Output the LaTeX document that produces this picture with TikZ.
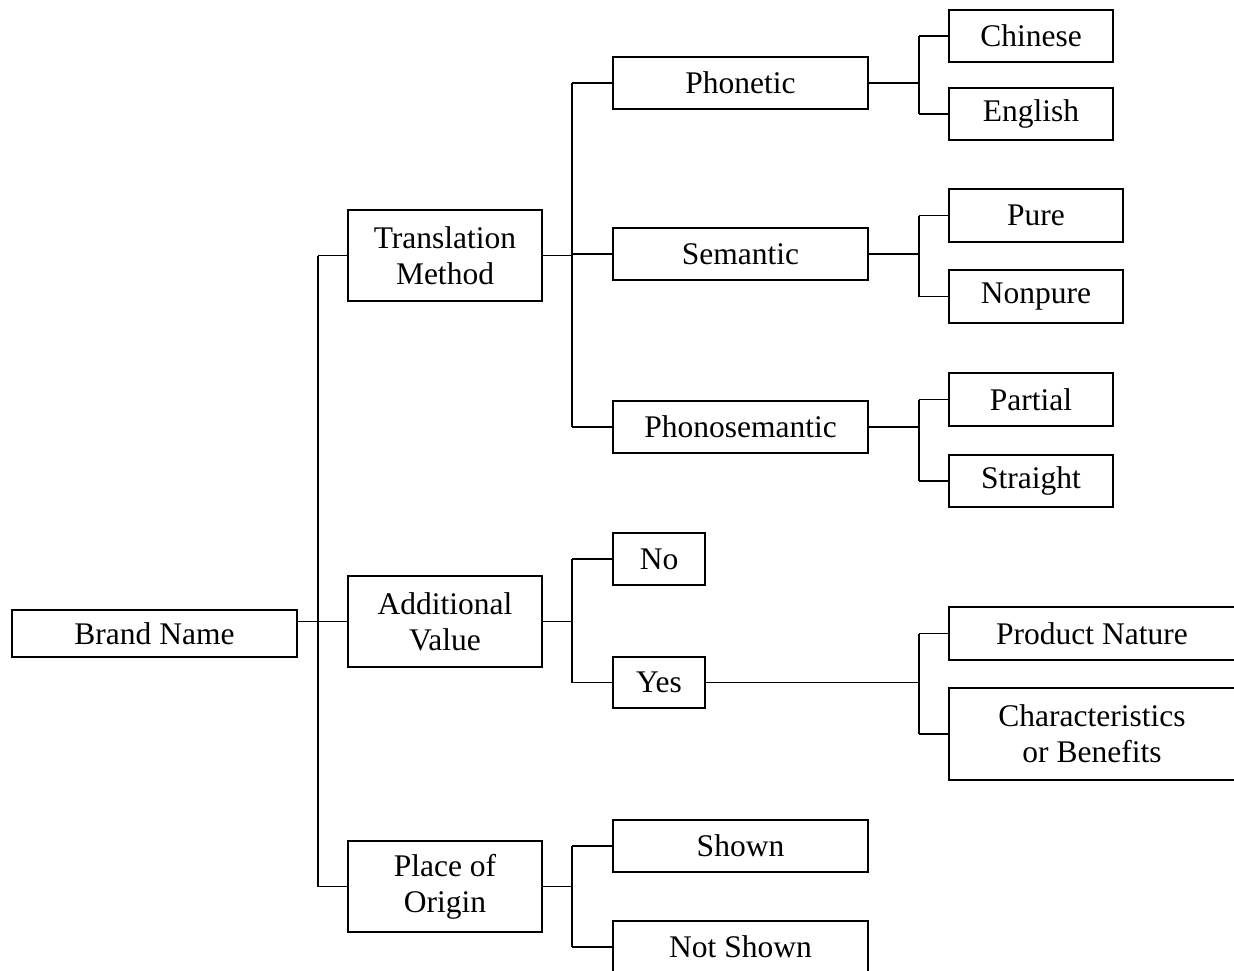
\documentclass[tikz,border=0pt]{standalone}
\usepackage{fontspec}
\setmainfont{Liberation Serif}
\begin{document}
\begin{tikzpicture}[x=1pt,y=-1pt,
  box/.style={draw=black, line width=1.6pt, rectangle, inner sep=0pt, align=center,
    font=\fontsize{31.5}{36}\selectfont, text=black},
  link/.style={draw=black, line width=1.6pt}]
\useasboundingbox (0,0) rectangle (1234,971);
\clip (0,0) rectangle (1234,971);
% level 0
\node[box, minimum width=285, minimum height=47] (bn) at (154.5,633.5) {Brand Name};
% level 1
\node[box, minimum width=194, minimum height=91] (tm) at (445,255.5) {Translation\\Method};
\node[box, minimum width=194, minimum height=91] (av) at (445,621.5) {Additional\\Value};
\node[box, minimum width=194, minimum height=91] (po) at (445,886.5) {Place of\\Origin};
% level 2
\node[box, minimum width=255, minimum height=52] (ph) at (740.5,83) {Phonetic};
\node[box, minimum width=255, minimum height=52] (se) at (740.5,254) {Semantic};
\node[box, minimum width=255, minimum height=52] (ps) at (740.5,427) {Phonosemantic};
\node[box, minimum width=92, minimum height=52] (no) at (659,559) {No};
\node[box, minimum width=92, minimum height=51] (ye) at (659,682.5) {Yes};
\node[box, minimum width=255, minimum height=52] (sh) at (740.5,846) {Shown};
\node[box, minimum width=255, minimum height=52] (ns) at (740.5,947) {Not Shown};
% level 3
\node[box, minimum width=164, minimum height=52] (ch) at (1031,36) {Chinese};
\node[box, minimum width=164, minimum height=52] (en) at (1031,114) {English};
\node[box, minimum width=174, minimum height=53] (pu) at (1036,215.5) {Pure};
\node[box, minimum width=174, minimum height=53] (np) at (1036,296.5) {Nonpure};
\node[box, minimum width=164, minimum height=53] (pa) at (1031,399.5) {Partial};
\node[box, minimum width=164, minimum height=52] (st) at (1031,481) {Straight};
\node[box, minimum width=286, minimum height=53] (pn) at (1092,633.5) {Product Nature};
\node[box, minimum width=286, minimum height=92] (cb) at (1092,734) {Characteristics\\or Benefits};
% junction columns
\coordinate (ja) at (318,0);
\coordinate (jb) at (572,0);
\coordinate (jc) at (919,0);
% connectors: root
\draw[link] (bn.east |- av.west) -- (av.west);
\draw[link] (tm.west -| ja) -- (po.west -| ja);
\draw[link] (tm.west -| ja) -- (tm.west);
\draw[link] (po.west -| ja) -- (po.west);
% translation method
\draw[link] (tm.east) -- (tm.east -| jb);
\draw[link] (ph.west -| jb) -- (ps.west -| jb);
\draw[link] (ph.west -| jb) -- (ph.west);
\draw[link] (se.west -| jb) -- (se.west);
\draw[link] (ps.west -| jb) -- (ps.west);
% additional value
\draw[link] (av.east) -- (av.east -| jb);
\draw[link] (no.west -| jb) -- (ye.west -| jb);
\draw[link] (no.west -| jb) -- (no.west);
\draw[link] (ye.west -| jb) -- (ye.west);
% place of origin
\draw[link] (po.east) -- (po.east -| jb);
\draw[link] (sh.west -| jb) -- (ns.west -| jb);
\draw[link] (sh.west -| jb) -- (sh.west);
\draw[link] (ns.west -| jb) -- (ns.west);
% level 3 junctions
\draw[link] (ph.east) -- (ph.east -| jc);
\draw[link] (ch.west -| jc) -- (en.west -| jc);
\draw[link] (ch.west -| jc) -- (ch.west);
\draw[link] (en.west -| jc) -- (en.west);
\draw[link] (se.east) -- (se.east -| jc);
\draw[link] (pu.west -| jc) -- (np.west -| jc);
\draw[link] (pu.west -| jc) -- (pu.west);
\draw[link] (np.west -| jc) -- (np.west);
\draw[link] (ps.east) -- (ps.east -| jc);
\draw[link] (pa.west -| jc) -- (st.west -| jc);
\draw[link] (pa.west -| jc) -- (pa.west);
\draw[link] (st.west -| jc) -- (st.west);
\draw[link] (ye.east) -- (ye.east -| jc);
\draw[link] (pn.west -| jc) -- (cb.west -| jc);
\draw[link] (pn.west -| jc) -- (pn.west);
\draw[link] (cb.west -| jc) -- (cb.west);
\end{tikzpicture}
\end{document}
